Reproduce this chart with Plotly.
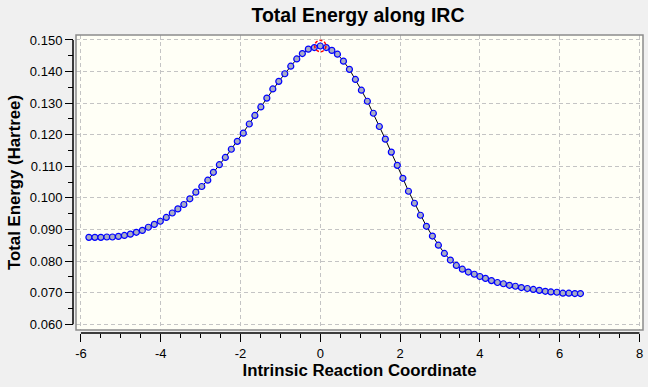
import plotly.graph_objects as go

# ---- data ----
irc_x = [-5.80, -5.65, -5.50, -5.35, -5.21, -5.06, -4.91, -4.76, -4.61, -4.46,
         -4.31, -4.16, -4.01, -3.86, -3.71, -3.57, -3.42, -3.27, -3.12, -2.97,
         -2.82, -2.68, -2.53, -2.38, -2.23, -2.08, -1.93, -1.78, -1.64, -1.49,
         -1.34, -1.19, -1.04, -0.89, -0.74, -0.59, -0.45, -0.30, -0.15, 0.00,
         0.15, 0.29, 0.43, 0.58, 0.73, 0.88, 1.03, 1.18, 1.33, 1.48,
         1.63, 1.78, 1.93, 2.07, 2.21, 2.36, 2.51, 2.66, 2.81, 2.96,
         3.11, 3.26, 3.41, 3.56, 3.71, 3.86, 4.00, 4.14, 4.29, 4.44,
         4.59, 4.74, 4.89, 5.04, 5.19, 5.34, 5.49, 5.64, 5.78, 5.93,
         6.08, 6.23, 6.38, 6.52]
energy = [0.0875, 0.0875, 0.0875, 0.0876, 0.0876, 0.0878, 0.0881, 0.0885, 0.0891, 0.0897,
          0.0907, 0.0916, 0.0926, 0.0938, 0.0952, 0.0965, 0.0979, 0.0997, 0.1018, 0.1036,
          0.1056, 0.1081, 0.1105, 0.1128, 0.1154, 0.1179, 0.1205, 0.1234, 0.1261, 0.1288,
          0.1316, 0.1345, 0.1369, 0.1393, 0.1417, 0.1440, 0.1457, 0.1471, 0.1476, 0.1481,
          0.1476, 0.1467, 0.1455, 0.1433, 0.1407, 0.1375, 0.1341, 0.1306, 0.1268, 0.1226,
          0.1186, 0.1145, 0.1103, 0.1062, 0.1021, 0.0983, 0.0945, 0.0910, 0.0879, 0.0850,
          0.0824, 0.0803, 0.0786, 0.0774, 0.0765, 0.0758, 0.0751, 0.0745, 0.0738, 0.0732,
          0.0728, 0.0723, 0.0720, 0.0716, 0.0713, 0.0710, 0.0707, 0.0704, 0.0702, 0.0701,
          0.0698, 0.0698, 0.0697, 0.0697]
x_ticks = [-6, -4, -2, 0, 2, 4, 6, 8]
y_ticks = [0.060, 0.070, 0.080, 0.090, 0.100, 0.110, 0.120, 0.130, 0.140, 0.150]

title_text = "Total Energy along IRC"
x_title = "Intrinsic Reaction Coordinate"
y_title = "Total Energy (Hartree)"

# ---- layout geometry ----
W, H = 648, 387
ML, MR, MT, MB = 73, 5, 35, 54
plot_w = W - ML - MR
plot_h = H - MT - MB
gap = 3  # axis offset from the frame, px
dx = gap / plot_w
dy = gap / plot_h

FONT = "Liberation Sans, Arial, sans-serif"

ts_i = max(range(len(energy)), key=lambda i: energy[i])
ts_x, ts_y = irc_x[ts_i], energy[ts_i]

fig = go.Figure()
fig.add_trace(go.Scatter(
    x=irc_x, y=energy, mode="lines+markers",
    line=dict(color="black", width=1),
    marker=dict(symbol="circle", size=6, color="#a8acc4",
                line=dict(color="#0000ff", width=1.2)),
    showlegend=False, hoverinfo="x+y",
))

# red dashed circle around the transition state (from data max)
rx, ry = 0.14, 0.0018
fig.add_shape(type="circle", xref="x", yref="y",
              x0=ts_x - rx, x1=ts_x + rx, y0=ts_y - ry, y1=ts_y + ry,
              line=dict(color="#ff0000", width=1.5, dash="3px,2px"), layer="above")

# frame of the plot area
fig.add_shape(type="rect", xref="paper", yref="paper",
              x0=dx, x1=1, y0=dy, y1=1,
              line=dict(color="#8c8c8c", width=1.5), layer="above")
# axis lines spanning the tick range
fig.add_shape(type="line", xref="x", yref="paper",
              x0=min(x_ticks), x1=max(x_ticks), y0=0, y1=0,
              line=dict(color="black", width=1.5), layer="above")
fig.add_shape(type="line", xref="paper", yref="y",
              x0=0, x1=0, y0=min(y_ticks), y1=max(y_ticks),
              line=dict(color="black", width=1.5), layer="above")

fig.update_layout(
    width=W, height=H,
    margin=dict(l=ML, r=MR, t=MT, b=MB, pad=0, autoexpand=False),
    paper_bgcolor="#f0f0f0",
    plot_bgcolor="#fffff6",
    font=dict(family=FONT, size=13, color="black"),
    title=dict(text="<b>" + title_text + "</b>", x=0.5, xref="paper",
               xanchor="center", y=1 - 15 / H, yref="container", yanchor="middle",
               font=dict(family=FONT, size=19.5, color="black")),
    xaxis=dict(
        domain=[dx, 1], anchor="free", position=0, automargin=False,
        range=[-6.123, 8.088],
        tickvals=x_ticks, ticktext=[str(v) for v in x_ticks],
        ticks="outside", ticklen=8, tickwidth=1, tickcolor="black",
        showline=False, zeroline=False,
        showgrid=True, gridcolor="#c4c4c4", gridwidth=1, griddash="4px,3px",
        minor=dict(dtick=0.5, tick0=0, ticks="outside", ticklen=4,
                   tickwidth=1, tickcolor="black", showgrid=False),
        title=dict(text="<b>" + x_title + "</b>", standoff=4,
                   font=dict(family=FONT, size=16.8, color="black")),
        tickfont=dict(family=FONT, size=13, color="black"),
    ),
    yaxis=dict(
        domain=[dy, 1], anchor="free", position=0, automargin=False,
        range=[0.05815, 0.15158],
        tickvals=y_ticks, ticktext=["%.3f" % v for v in y_ticks],
        ticks="outside", ticklen=8, tickwidth=1, tickcolor="black",
        showline=False, zeroline=False,
        showgrid=True, gridcolor="#c4c4c4", gridwidth=1, griddash="4px,3px",
        minor=dict(dtick=0.005, tick0=0, ticks="outside", ticklen=5,
                   tickwidth=1, tickcolor="black", showgrid=False),
        title=dict(text="<b>" + y_title + "</b>", standoff=3,
                   font=dict(family=FONT, size=16.8, color="black")),
        tickfont=dict(family=FONT, size=13, color="black"),
    ),
)

fig.write_html("out.html",
               config={"displayModeBar": False},
               post_script="document.body.style.margin='0px';"
                           "document.body.style.background='#f0f0f0';")
